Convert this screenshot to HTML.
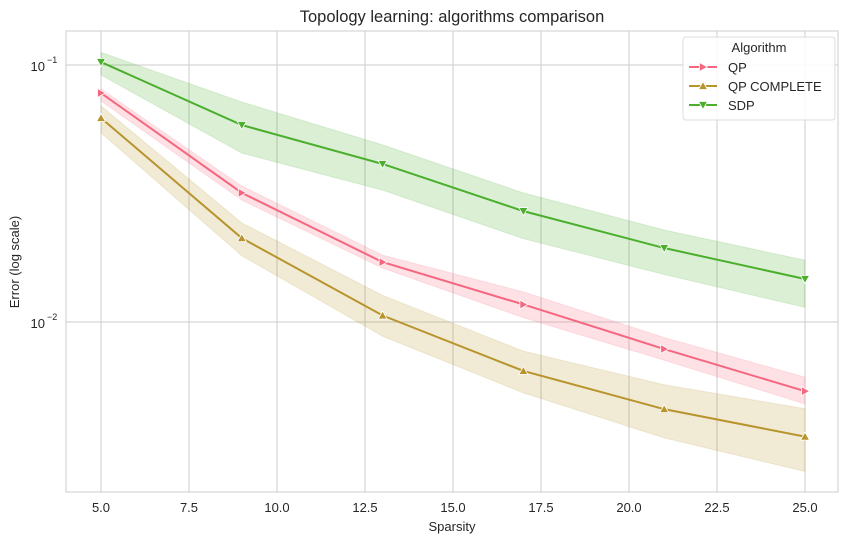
<!DOCTYPE html>
<html><head><meta charset="utf-8"><style>
body{margin:0;background:#fff;}
svg{font-family:"Liberation Sans","DejaVu Sans",sans-serif;}
</style></head><body>
<svg id="chart" width="850" height="542" viewBox="0 0 850 542">
<rect width="850" height="542" fill="#fff"/>
<g id="grid"></g><g id="bands"></g><g id="lines"></g><g id="axes"></g><g id="legend"></g>
</svg>
<script>
const xs=[5,9,13,17,21,25];
const qp=[0.0778,0.0318,0.0171,0.0117,0.00785,0.00538];
const qpLo=[0.0724,0.0298,0.0162,0.0104,0.0071,0.0048];
const qpHi=[0.0807,0.0338,0.0182,0.0131,0.0087,0.0061];
const qpc=[0.0622,0.0212,0.0106,0.00645,0.00458,0.00358];
const qpcLo=[0.0544,0.0181,0.0088,0.0053,0.00354,0.00262];
const qpcHi=[0.0693,0.0243,0.0127,0.0077,0.0057,0.0046];
const sdp=[0.1027,0.0584,0.0412,0.0270,0.0194,0.0147];
const sdpLo=[0.0914,0.0454,0.0326,0.0211,0.0153,0.0114];
const sdpHi=[0.112,0.0718,0.0489,0.0318,0.0228,0.0174];
const xTicks=[5,7.5,10,12.5,15,17.5,20,22.5,25];
const xTickLabels=["5.0","7.5","10.0","12.5","15.0","17.5","20.0","22.5","25.0"];
const yTicks=[0.1,0.01];
const seriesNames=["QP","QP COMPLETE","SDP"];

const NS="http://www.w3.org/2000/svg";
const L=66,R=838,T=31,B=492;
const X=v=>101+(v-5)*(805-101)/20;
const Y=v=>65+(-1-Math.log10(v))*257;
function mk(tag,attrs,parent,text){const e=document.createElementNS(NS,tag);for(const k in attrs)e.setAttribute(k,attrs[k]);if(text!==undefined)e.textContent=text;parent.appendChild(e);return e;}
const grid=document.getElementById('grid'),bands=document.getElementById('bands'),lines=document.getElementById('lines'),axes=document.getElementById('axes'),legend=document.getElementById('legend');

xTicks.forEach((t,i)=>{
 const g=mk('line',{x1:X(t),x2:X(t),y1:T,y2:B,stroke:'#cccccc','stroke-width':1},grid);
 
 
 const tx=mk('text',{x:X(t),y:512,'text-anchor':'middle','font-size':13,fill:'#262626'},axes,xTickLabels[i]);
 
 
});
yTicks.forEach(t=>{
 const g=mk('line',{x1:L,x2:R,y1:Y(t),y2:Y(t),stroke:'#cccccc','stroke-width':1},grid);
 
 
 const tx=mk('text',{x:45,y:Y(t)+6,'text-anchor':'end','font-size':13,fill:'#262626'},axes,'10');
 
 
 const ex=mk('text',{x:47,y:Y(t)-2,'font-size':9,fill:'#262626'},axes,'\u2212'+Math.round(-Math.log10(t)));
 
 
});
const fr=mk('rect',{x:L,y:T,width:R-L,height:B-T,fill:'none',stroke:'#cccccc','stroke-width':1},axes);



const series=[
 {name:'qp',vals:qp,lo:qpLo,hi:qpHi,col:'#f5677f',mk:'right'},
 {name:'qp-complete',vals:qpc,lo:qpcLo,hi:qpcHi,col:'#b8942d',mk:'up'},
 {name:'sdp',vals:sdp,lo:sdpLo,hi:sdpHi,col:'#4bae2c',mk:'down'}];
function marker(type,x,y,col,parent){
 let p;
 if(type==='up')p=`${x-4.5},${y+3.5} ${x+4.5},${y+3.5} ${x},${y-4.5}`;
 else if(type==='down')p=`${x-4.5},${y-3.5} ${x+4.5},${y-3.5} ${x},${y+4.5}`;
 else p=`${x-3.5},${y-4.5} ${x-3.5},${y+4.5} ${x+4.5},${y}`;
 return mk('polygon',{points:p,fill:col,stroke:'#fff','stroke-width':0.8},parent);
}
series.forEach(s=>{
 let d=xs.map((x,i)=>(i?'L':'M')+X(x)+','+Y(s.hi[i])).join(' ');
 for(let i=xs.length-1;i>=0;i--)d+=' L'+X(xs[i])+','+Y(s.lo[i]);
 const b=mk('path',{d:d+'Z',fill:s.col,'fill-opacity':0.2,stroke:s.col,'stroke-opacity':0.15},bands);
 
 
 const ln=mk('path',{d:xs.map((x,i)=>(i?'L':'M')+X(x)+','+Y(s.vals[i])).join(' '),fill:'none',stroke:s.col,'stroke-width':2},lines);
 
 
 xs.forEach((x,i)=>{
  const m=marker(s.mk,X(x),Y(s.vals[i]),s.col,lines);
  
  
 });
});

const title=mk('text',{x:452,y:22,'text-anchor':'middle','font-size':16.5,fill:'#262626'},axes,'Topology learning: algorithms comparison');


const xl=mk('text',{x:452,y:531,'text-anchor':'middle','font-size':13,fill:'#262626'},axes,'Sparsity');


const yl=mk('text',{x:19,y:262,'text-anchor':'middle','font-size':13,fill:'#262626',transform:'rotate(-90 19 262)'},axes,'Error (log scale)');



const lb=mk('rect',{x:683,y:37,width:152,height:83,rx:3,fill:'#fff','fill-opacity':0.85,stroke:'#dddddd'},legend);


const lt=mk('text',{x:759,y:52,'text-anchor':'middle','font-size':13,fill:'#262626'},legend,'Algorithm');


series.forEach((s,i)=>{
 const y=67+i*19;
 const g=mk('g',{},legend);
 
 
 mk('line',{x1:689,x2:717,y1:y,y2:y,stroke:s.col,'stroke-width':2},g);
 marker(s.mk,703,y,s.col,g);
 mk('text',{x:728,y:y+5,'font-size':13,fill:'#262626'},g,seriesNames[i]);
});
</script>
</body></html>
